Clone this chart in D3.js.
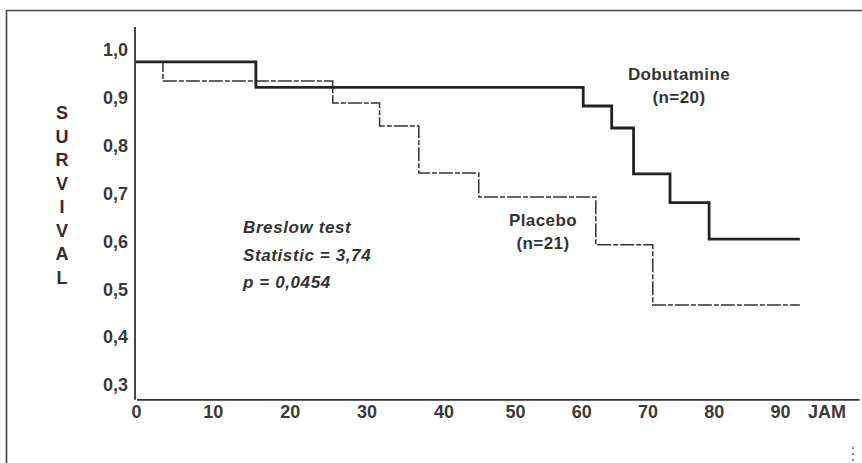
<!DOCTYPE html>
<html>
<head>
<meta charset="utf-8">
<script src="https://cdn.jsdelivr.net/npm/d3@7"></script>
<style>
  body { margin: 0; background: #fff; }
  text { font-family: "Liberation Sans", Arial, sans-serif; }
</style>
</head>
<body>
<div id="chart"></div>
<script>
// survival curves (time in days, "JAM")
var dobTime = [0, 15.6, 60.3, 64.6, 67.9, 73.4, 79.3, 93];
var dobSurv = [0.975, 0.922, 0.883, 0.837, 0.741, 0.681, 0.605, 0.605];
var plaTime = [0, 3.5, 25.6, 31.7, 36.8, 44.6, 62.2, 70.8, 93];
var plaSurv = [0.975, 0.935, 0.889, 0.841, 0.743, 0.693, 0.593, 0.467, 0.467];

var xTicks = [0, 10, 20, 30, 40, 50, 60, 70, 80, 90];
var yTicks = [0.3, 0.4, 0.5, 0.6, 0.7, 0.8, 0.9, 1.0];
var statLines = ["Breslow test", "Statistic = 3,74", "p = 0,0454"];
var yLabel = "SURVIVAL";

// set the dimensions and margins of the graph
var margin = {top: 50, right: 82, bottom: 78, left: 136},
    width = 862 - margin.left - margin.right,
    height = 463 - margin.top - margin.bottom;

var svg = d3.select("#chart")
  .append("svg")
    .attr("width", 862)
    .attr("height", 463);

// frame of the scanned page
svg.append("path")
  .attr("d", "M6.5,463 L6.5,10.5 L862,10.5")
  .attr("fill", "none")
  .attr("stroke", "#444")
  .attr("stroke-width", 1.6);

var g = svg.append("g")
  .attr("transform", "translate(" + margin.left + "," + margin.top + ")");

// the scan squeezes the right half of the time axis a little
var x = d3.scaleLinear()
  .domain([0, 45, 90])
  .range([0, width * 0.537, width]);

var y = d3.scaleLinear()
  .domain([0.3, 1.0])
  .range([335, 0]);

var comma = d3.formatLocale({decimal: ",", thousands: ".", grouping: [3], currency: ["", ""]}).format(".1f");

// axis lines
g.append("line")
  .attr("x1", -1).attr("x2", -1)
  .attr("y1", y(1.048)).attr("y2", y(0.269))
  .attr("stroke", "#333").attr("stroke-width", 1.8);
g.append("line")
  .attr("x1", x(0) + 1).attr("x2", x(102))
  .attr("y1", y(0.269)).attr("y2", y(0.269))
  .attr("stroke", "#333").attr("stroke-width", 1.8);

// Y axis labels
var yAxis = g.append("g")
  .call(d3.axisLeft(y).tickValues(yTicks).tickSize(0).tickPadding(8).tickFormat(comma));
yAxis.select(".domain").remove();
yAxis.selectAll("text")
  .attr("fill", "#3a3a3a")
  .style("font-size", "18px")
  .style("font-weight", "bold");

// X axis labels
var xAxis = g.append("g")
  .attr("transform", "translate(0," + y(0.269) + ")")
  .call(d3.axisBottom(x).tickValues(xTicks).tickSize(0).tickPadding(5).tickFormat(d3.format("d")));
xAxis.select(".domain").remove();
xAxis.selectAll("text")
  .attr("fill", "#3a3a3a")
  .style("font-size", "18px")
  .style("font-weight", "bold");

g.append("text")
  .attr("x", x(90) + 47)
  .attr("y", y(0.269) + 18)
  .attr("text-anchor", "middle")
  .attr("fill", "#3a3a3a")
  .style("font-size", "18px")
  .style("font-weight", "bold")
  .text("JAM");

// vertical SURVIVAL title, one letter per row
svg.append("g")
  .selectAll("text")
  .data(yLabel.split(""))
  .enter()
  .append("text")
    .attr("x", 62)
    .attr("y", function(d, i) { return 119 + i * 23.5; })
    .attr("text-anchor", "middle")
    .attr("fill", "#3b2a2e")
    .style("font-size", "18px")
    .style("font-weight", "bold")
    .text(function(d) { return d; });

var step = d3.line()
  .curve(d3.curveStepAfter)
  .x(function(d) { return x(d[0]); })
  .y(function(d) { return y(d[1]); });

// placebo: thin broken line
g.append("path")
  .datum(d3.zip(plaTime, plaSurv))
  .attr("fill", "none")
  .attr("stroke", "#333")
  .attr("stroke-width", 1.5)
  .attr("stroke-dasharray", "14,2,5,2")
  .attr("d", step);

// dobutamine: heavy solid line
g.append("path")
  .datum(d3.zip(dobTime, dobSurv))
  .attr("fill", "none")
  .attr("stroke", "#222")
  .attr("stroke-width", 2.8)
  .attr("stroke-linejoin", "miter")
  .attr("d", step);

// curve labels
function label(lines, cx, y0) {
  g.append("g")
    .selectAll("text")
    .data(lines)
    .enter()
    .append("text")
      .attr("x", cx)
      .attr("y", function(d, i) { return y0 + i * 23; })
      .attr("text-anchor", "middle")
      .attr("fill", "#333")
      .style("font-size", "17px")
      .style("font-weight", "bold")
      .style("letter-spacing", "0.4px")
      .text(function(d) { return d; });
}
label(["Dobutamine", "(n=20)"], 543, 30);
label(["Placebo", "(n=21)"], 407, 176);

// test statistics
g.append("g")
  .selectAll("text")
  .data(statLines)
  .enter()
  .append("text")
    .attr("x", 107)
    .attr("y", function(d, i) { return 183 + i * 27.5; })
    .attr("fill", "#333")
    .style("font-size", "17px")
    .style("font-weight", "bold")
    .style("font-style", "italic")
    .style("letter-spacing", "0.6px")
    .text(function(d) { return d; });

// small dotted mark at the bottom right of the scan
svg.append("line")
  .attr("x1", 853).attr("x2", 853)
  .attr("y1", 447).attr("y2", 463)
  .attr("stroke", "#666")
  .attr("stroke-width", 1.5)
  .attr("stroke-dasharray", "2,4");
</script>
</body>
</html>
